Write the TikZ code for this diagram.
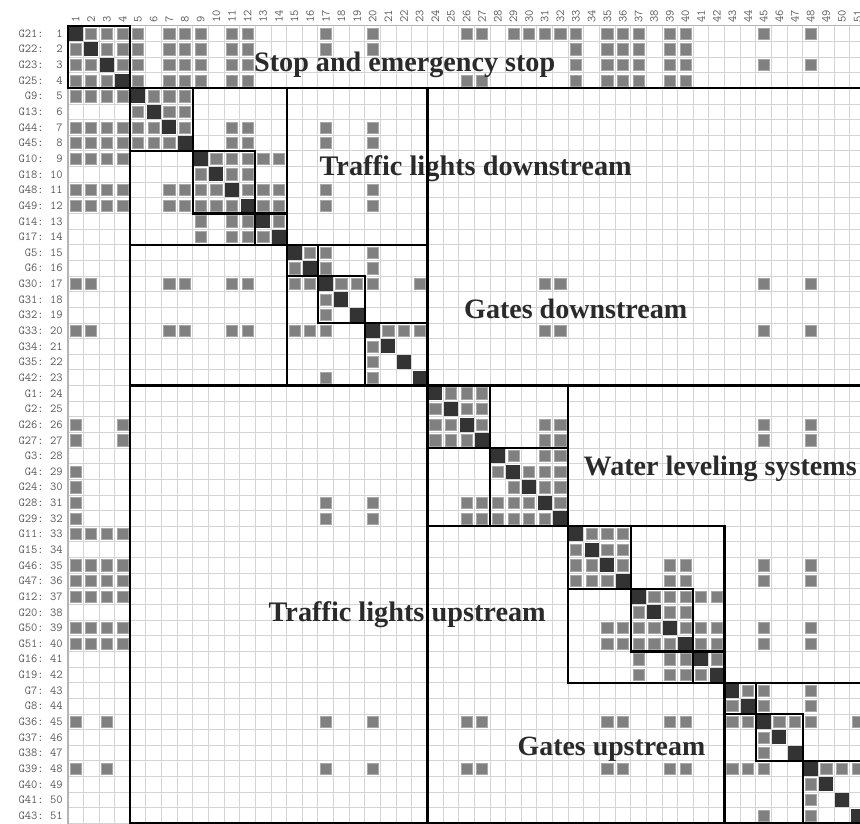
\documentclass[tikz,border=0pt]{standalone}
\usepackage{fontspec}
\usepackage{graphicx}
\setmainfont{Liberation Serif}
\definecolor{labgray}{HTML}{5A5A5A}
\definecolor{cellgray}{HTML}{808080}
\definecolor{cellborder}{HTML}{A8A8A8}
\definecolor{diagdark}{HTML}{333333}
\definecolor{gridc}{HTML}{D4D4D4}
\definecolor{bordc}{HTML}{B4B4B4}
\definecolor{titlecol}{HTML}{2A2A2A}
\begin{document}
\begin{tikzpicture}[x=1pt,y=-1pt,
  lab/.style={font=\fontsize{12.2}{12.2}\selectfont\ttfamily, text=labgray, inner sep=0pt},
  gcell/.style={fill=cellgray, draw=cellborder, line width=0.6pt},
  dcell/.style={fill=diagdark},
  gridline/.style={draw=gridc, line width=0.9pt},
  blockline/.style={draw=black, line width=2.2pt},
  title/.style={text=titlecol, inner sep=0pt, anchor=base west}]
\def\xo{67.7}
\def\yo{25.8}
\def\cs{15.64}
\useasboundingbox (0,0) rectangle (860,823);
\fill[white] (0,0) rectangle (860,823);
\begin{scope}
\clip (0,0) rectangle (860,823);
% grid
\foreach \k in {1,...,51}{
  \pgfmathsetmacro\gx{\xo+\k*\cs}
  \pgfmathsetmacro\gy{\yo+\k*\cs}
  \draw[gridline] (\gx,\yo) -- (\gx,830);
  \draw[gridline] (\xo,\gy) -- (870,\gy);
}
\draw[draw=bordc, line width=1.3pt] (\xo,\yo) -- (870,\yo);
\draw[draw=bordc, line width=2pt] (\xo,\yo) -- (\xo,830);
% off-diagonal entries
\foreach \r/\cl in {
1/{2,3,4,5,7,8,9,11,12,17,20,26,27,29,30,31,32,33,35,36,37,39,40,45,48},
2/{1,3,4,5,7,8,9,11,12,17,20,33,35,36,37,39,40},
3/{1,2,4,5,7,8,9,11,12,33,35,36,37,39,40,45,48},
4/{1,2,3,5,7,8,9,11,12,26,27,33,35,36,37,39,40},
5/{1,2,3,4,6,7,8},
6/{5,7,8},
7/{1,2,3,4,5,6,8,11,12,17,20},
8/{1,2,3,4,5,6,7,11,12,17,20},
9/{1,2,3,4,10,11,12,13,14},
10/{9,11,12},
11/{1,2,3,4,7,8,9,10,12,13,14,17,20},
12/{1,2,3,4,7,8,9,10,11,13,14,17,20},
13/{9,11,12,14},
14/{9,11,12,13},
15/{16,17,20},
16/{15,17,20},
17/{1,2,7,8,11,12,15,16,18,19,20,23,31,32,45,48},
18/{17},
19/{17},
20/{1,2,7,8,11,12,15,16,17,21,22,23,31,32,45,48},
21/{20},
22/{20},
23/{17,20},
24/{25,26,27},
25/{24,26,27},
26/{1,4,24,25,27,31,32,45,48},
27/{1,4,24,25,26,31,32,45,48},
28/{29,31,32},
29/{1,28,30,31,32},
30/{1,29,31,32},
31/{1,17,20,26,27,28,29,30,32},
32/{1,17,20,26,27,28,29,30,31},
33/{1,2,3,4,34,35,36},
34/{33,35,36},
35/{1,2,3,4,33,34,36,39,40,45,48},
36/{1,2,3,4,33,34,35,39,40,45,48},
37/{1,2,3,4,38,39,40,41,42},
38/{37,39,40},
39/{1,2,3,4,35,36,37,38,40,41,42,45,48},
40/{1,2,3,4,35,36,37,38,39,41,42,45,48},
41/{37,39,40,42},
42/{37,39,40,41},
43/{44,45,48},
44/{43,45,48},
45/{1,3,17,20,26,27,35,36,39,40,43,44,46,47,48,51},
46/{45},
47/{45},
48/{1,3,17,20,26,27,35,36,39,40,43,44,45,49,50,51},
49/{48},
50/{48},
51/{45,48}}{
  \foreach \c in \cl {
    \pgfmathsetmacro\xl{\xo+(\c-1)*\cs+2.2}
    \pgfmathsetmacro\yt{\yo+(\r-1)*\cs+2.2}
    \filldraw[gcell] (\xl,\yt) rectangle ++(11.24,11.24);
  }
}
% diagonal
\foreach \i in {1,...,51}{
  \pgfmathsetmacro\xl{\xo+(\i-1)*\cs+0.8}
  \pgfmathsetmacro\yt{\yo+(\i-1)*\cs+0.8}
  \fill[dcell] (\xl,\yt) rectangle ++(14.04,14.04);
}
% titles
\node[title] (tstop) at (254,71) {\resizebox{301pt}{!}{\bfseries Stop and emergency stop}};
\node[title] (ttld) at (319.5,175) {\resizebox{312pt}{!}{\bfseries Traffic lights downstream}};
\node[title] (tgd) at (464,318.5) {\resizebox{223pt}{!}{\bfseries Gates downstream}};
\node[title] (twls) at (583.5,475) {\resizebox{273pt}{!}{\bfseries Water leveling systems}};
\node[title] (ttlu) at (268.5,621.5) {\resizebox{277pt}{!}{\bfseries Traffic lights upstream}};
\node[title] (tgu) at (517.5,755) {\resizebox{187.5pt}{!}{\bfseries Gates upstream}};
% blocks
\foreach \a/\b in {1/4,5/51,5/23,5/14,5/8,9/12,13/14,15/23,15/16,17/19,20/23,
  24/51,24/32,24/27,28/32,33/42,33/36,37/40,41/42,43/51,43/44,45/47,48/51}{
  \pgfmathsetmacro\ba{\xo+(\a-1)*\cs}
  \pgfmathsetmacro\bb{\xo+\b*\cs}
  \pgfmathsetmacro\ca{\yo+(\a-1)*\cs}
  \pgfmathsetmacro\cb{\yo+\b*\cs}
  \draw[blockline] (\ba,\ca) rectangle (\bb,\cb);
}
\end{scope}
% column labels
\foreach \i in {1,...,51}{
  \pgfmathsetmacro\cx{\xo+(\i-0.5)*\cs}
  \node[lab, rotate=90, anchor=west] (c\i) at (\cx,22.5) {\i};
}
% row labels
\foreach \i/\g in {1/G21,2/G22,3/G23,4/G25,5/G9,6/G13,7/G44,8/G45,9/G10,10/G18,
  11/G48,12/G49,13/G14,14/G17,15/G5,16/G6,17/G30,18/G31,19/G32,20/G33,
  21/G34,22/G35,23/G42,24/G1,25/G2,26/G26,27/G27,28/G3,29/G4,30/G24,
  31/G28,32/G29,33/G11,34/G15,35/G46,36/G47,37/G12,38/G20,39/G50,40/G51,
  41/G16,42/G19,43/G7,44/G8,45/G36,46/G37,47/G38,48/G39,49/G40,50/G41,51/G43}{
  \pgfmathsetmacro\ry{\yo+(\i-0.5)*\cs}
  \node[lab, anchor=east] (r\i) at (62.8,\ry) {\g:\phantom{0}\ifnum\i<10 \phantom{0}\fi\i};
}
\end{tikzpicture}
\end{document}
